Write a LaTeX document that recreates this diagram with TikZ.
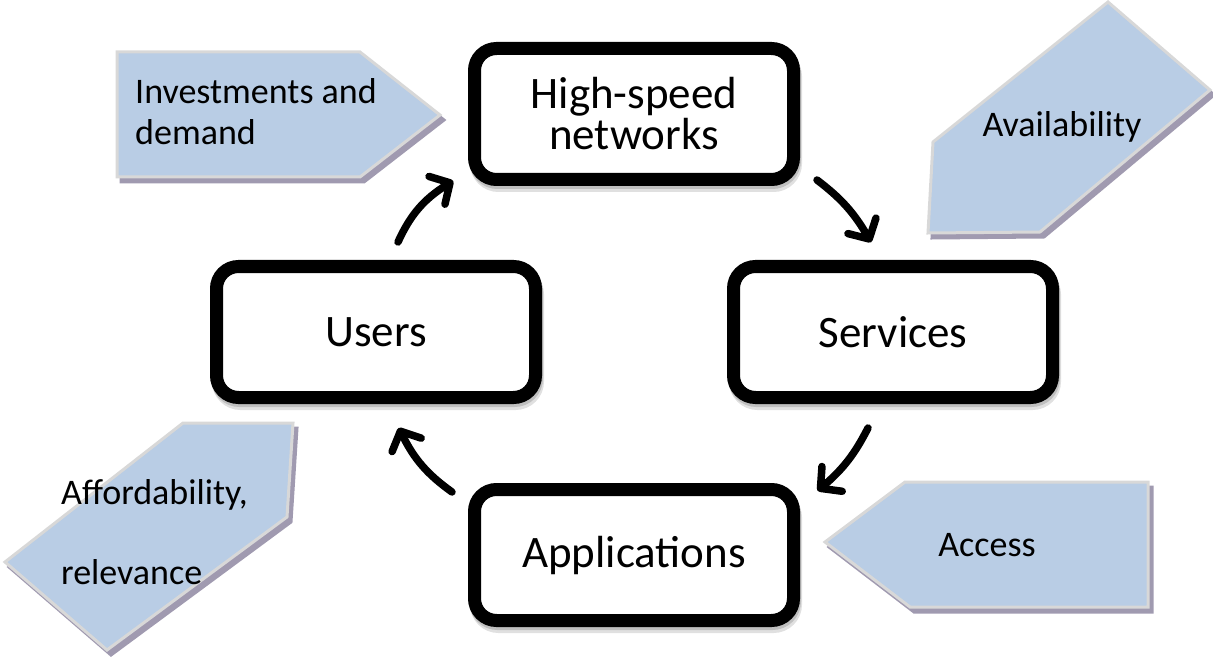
\documentclass[tikz,border=0pt]{standalone}
\usepackage{fontspec}
\setmainfont{Carlito}
\usetikzlibrary{arrows.meta,shadows,bending}
\definecolor{pfill}{RGB}{185,205,229}
\definecolor{pedge}{RGB}{216,216,216}
\definecolor{pshadow}{RGB}{160,154,176}
\begin{document}
\begin{tikzpicture}[x=1pt,y=1pt,
  cbox/.style={draw=black, line width=13pt, rounded corners=22pt, fill=white,
    minimum width=319pt, minimum height=131pt, inner sep=0pt, align=center,
    font=\fontsize{45}{41}\selectfont,
    drop shadow={shadow xshift=2pt, shadow yshift=-6pt, opacity=0.12, fill=black, draw=black},
    drop shadow={shadow xshift=1pt, shadow yshift=-3pt, opacity=0.15, fill=black, draw=black}},
  pent/.style={fill=pfill, draw=pedge, line width=3pt, line join=miter},
  pshad/.style={fill=pshadow, draw=pshadow, line width=3pt},
  ptext/.style={font=\fontsize{36}{41}\selectfont, inner sep=0pt},
  cyc/.style={line width=7.5pt, line cap=round, -{Straight Barb[length=15pt,width=32pt,line cap=round,line join=round]}, shorten >=2pt}]
\useasboundingbox (0,0) rectangle (1213,-663);

% pentagon shadows
\begin{scope}[shift={(4,-5)}]
\fill[pshad] (117,-52) -- (360,-52) -- (440,-115) -- (360,-177) -- (117,-177) -- cycle;
\fill[pshad] (1108,-2) -- (1210,-90) -- (1040,-232) -- (928,-233) -- (933,-142) -- cycle;
\fill[pshad] (183,-423) -- (293,-423) -- (287,-517) -- (107,-650) -- (5,-562) -- cycle;
\fill[pshad] (825,-542) -- (905,-482) -- (1148,-482) -- (1148,-607) -- (910,-607) -- cycle;
\end{scope}
% pentagons
\draw[pent] (117,-52) -- (360,-52) -- (440,-115) -- (360,-177) -- (117,-177) -- cycle;
\draw[pent] (1108,-2) -- (1210,-90) -- (1040,-232) -- (928,-233) -- (933,-142) -- cycle;
\draw[pent] (183,-423) -- (293,-423) -- (287,-517) -- (107,-650) -- (5,-562) -- cycle;
\draw[pent] (825,-542) -- (905,-482) -- (1148,-482) -- (1148,-607) -- (910,-607) -- cycle;

\node[ptext, align=left, anchor=west] (inv) at (135,-112) {Investments and\\demand};
\node[ptext] (avail) at (1062,-127) {Availability};
\node[ptext] (acc) at (987,-545) {Access};
\node[ptext, align=left, anchor=west, font=\fontsize{36}{80}\selectfont] (aff) at (61,-532) {Affordability,\\relevance};

% main boxes
\node[cbox] (hsn) at (634,-114) {High-speed\\networks};
\node[cbox] (users) at (376,-332) {Users};
\node[cbox] (serv) at (893,-332) {Services};
\node[cbox] (app) at (634,-555) {Applications};

% arrow ends
\coordinate (a1s) at (398,-242); \coordinate (a1e) at (455,-180);
\coordinate (a2s) at (817,-180); \coordinate (a2e) at (872,-244);
\coordinate (a3s) at (868,-428); \coordinate (a3e) at (816,-492);
\coordinate (a4s) at (452,-492); \coordinate (a4e) at (398,-426);
\draw[cyc] (a1s) to[bend left=18] (a1e);
\draw[cyc] (a2s) to[bend left=12] (a2e);
\draw[cyc] (a3s) to[bend left=12] (a3e);
\draw[cyc] (a4s) to[bend left=15] (a4e);
\end{tikzpicture}
\end{document}
